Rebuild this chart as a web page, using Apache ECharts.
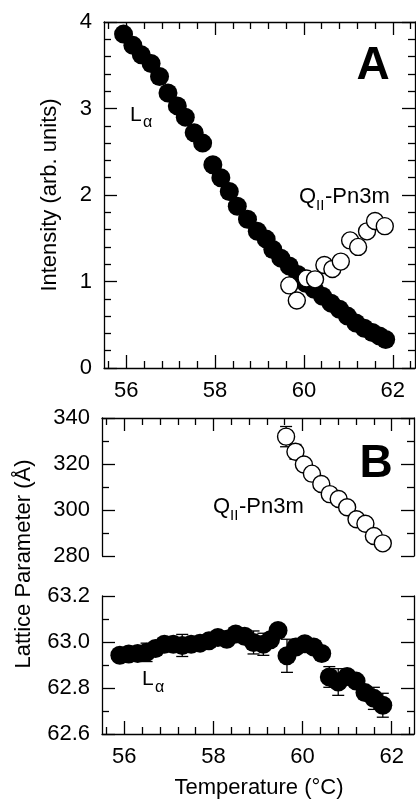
<!DOCTYPE html>
<html>
<head>
<meta charset="utf-8">
<script src="https://cdn.jsdelivr.net/npm/echarts@6/dist/echarts.min.js"></script>
<style>
html, body { margin: 0; padding: 0; background: #fff; }
#chart { width: 416px; height: 801px; }
</style>
</head>
<body>
<div id="chart"></div>
<script>
// Panel A: intensity vs temperature
var tempLaA = [55.94, 56.15, 56.34, 56.56, 56.75, 56.94, 57.15, 57.33, 57.53, 57.72, 57.95, 58.13, 58.32, 58.5, 58.73, 58.95, 59.15, 59.3, 59.48, 59.67, 59.86, 60.04, 60.23, 60.42, 60.61, 60.8, 60.98, 61.17, 61.36, 61.54, 61.7, 61.84];
var intensityLaA = [3.86, 3.73, 3.62, 3.52, 3.37, 3.18, 3.03, 2.90, 2.72, 2.60, 2.35, 2.20, 2.04, 1.87, 1.72, 1.58, 1.49, 1.37, 1.27, 1.18, 1.08, 0.98, 0.91, 0.83, 0.75, 0.68, 0.60, 0.52, 0.46, 0.41, 0.37, 0.33];
var tempQA = [59.67, 59.84, 60.06, 60.25, 60.46, 60.64, 60.83, 61.04, 61.22, 61.42, 61.6, 61.82];
var intensityQA = [0.955, 0.78, 1.035, 1.025, 1.19, 1.145, 1.23, 1.475, 1.40, 1.58, 1.70, 1.64];

// Panel B: lattice parameter vs temperature
var tempQB = [59.63, 59.84, 60.03, 60.21, 60.42, 60.61, 60.81, 61.0, 61.21, 61.41, 61.6, 61.8];
var latticeQB = [331.9, 325.3, 319.8, 315.8, 311.3, 306.9, 304.8, 301.2, 296.0, 294.0, 288.7, 285.5];
var errQB = [4.4, 3.2, 2.5, 2.5, 2.5, 2.5, 2.5, 2.5, 2.5, 2.5, 2.5, 2.5];
var tempLaB = [55.9, 56.1, 56.3, 56.5, 56.7, 56.9, 57.1, 57.3, 57.5, 57.7, 57.9, 58.1, 58.3, 58.5, 58.7, 58.9, 59.12, 59.28, 59.45, 59.65, 59.85, 60.05, 60.25, 60.43, 60.6, 60.8, 61.0, 61.2, 61.4, 61.6, 61.8];
var latticeLaB = [62.942, 62.948, 62.95, 62.955, 62.972, 62.99, 62.99, 62.985, 62.99, 62.995, 63.005, 63.02, 63.012, 63.035, 63.025, 62.998, 62.99, 63.01, 63.05, 62.94, 62.978, 62.992, 62.978, 62.95, 62.848, 62.826, 62.85, 62.83, 62.78, 62.755, 62.725];
var errLaB = [0.02, 0.02, 0.02, 0.04, 0.02, 0.02, 0.02, 0.048, 0.02, 0.02, 0.02, 0.02, 0.02, 0.02, 0.02, 0.05, 0.048, 0.02, 0.02, 0.072, 0.02, 0.02, 0.02, 0.02, 0.045, 0.058, 0.02, 0.02, 0.02, 0.048, 0.052];

// ticks
var xMajorTicks = [56, 58, 60, 62];
var xMinorTicks = [55.6, 56.4, 56.8, 57.2, 57.6, 58.4, 58.8, 59.2, 59.6, 60.4, 60.8, 61.2, 61.6, 62.4];

var FONT = "'Liberation Sans', Arial, sans-serif";
var INK = '#000';

function zip(a, b, c) {
    return a.map(function (v, i) { return c ? [v, b[i], c[i]] : [v, b[i]]; });
}

function xAxisDef(grid, pos, major, showLine, showLabel) {
    return {
        type: 'value', gridIndex: grid, position: pos, min: 55.5, max: 62.5,
        axisLine: { show: showLine, lineStyle: { color: INK, width: 1.3 } },
        axisTick: { show: true, inside: true, length: major ? 13 : 7, customValues: major ? xMajorTicks : xMinorTicks, lineStyle: { color: INK, width: 1.3 } },
        axisLabel: { show: showLabel, customValues: xMajorTicks, margin: 12, fontSize: 22, fontFamily: FONT, color: INK },
        splitLine: { show: false }
    };
}

function yAxisDef(grid, pos, min, max, interval, minorSplit, showLabel, fmt) {
    return {
        type: 'value', gridIndex: grid, position: pos, min: min, max: max, interval: interval,
        axisLine: { show: true, onZero: false, lineStyle: { color: INK, width: 1.3 } },
        axisTick: { show: true, inside: true, length: 13, lineStyle: { color: INK, width: 1.3 } },
        minorTick: { show: true, splitNumber: minorSplit, length: 7, lineStyle: { color: INK, width: 1.3 } },
        axisLabel: { show: showLabel, margin: 12, fontSize: 22, fontFamily: FONT, color: INK, formatter: fmt },
        splitLine: { show: false },
        minorSplitLine: { show: false }
    };
}

function renderErrorBar(params, api) {
    var x = api.value(0), y = api.value(1), e = api.value(2);
    var top = api.coord([x, y + e]);
    var bot = api.coord([x, y - e]);
    var half = 6;
    var style = { stroke: INK, lineWidth: 1.3, fill: null };
    return {
        type: 'group',
        children: [
            { type: 'line', shape: { x1: top[0], y1: top[1], x2: bot[0], y2: bot[1] }, style: style },
            { type: 'line', shape: { x1: top[0] - half, y1: top[1], x2: top[0] + half, y2: top[1] }, style: style },
            { type: 'line', shape: { x1: bot[0] - half, y1: bot[1], x2: bot[0] + half, y2: bot[1] }, style: style }
        ]
    };
}

function txt(x, y, text, size, opts) {
    opts = opts || {};
    return {
        type: 'text', x: x, y: y, rotation: opts.rotation || 0, z: 10,
        style: {
            text: text, fill: INK, fontSize: size, fontFamily: FONT, fontWeight: opts.bold ? 'bold' : 'normal',
            align: opts.align || 'left', verticalAlign: 'middle',
            textAlign: opts.align || 'left', textVerticalAlign: 'middle'
        }
    };
}

var chart = echarts.init(document.getElementById('chart'), null, { renderer: 'canvas' });

var option = {
    backgroundColor: '#fff',
    animation: false,
    grid: [
        { left: 104, top: 22, width: 311, height: 346 },
        { left: 102, top: 418, width: 312, height: 138 },
        { left: 102, top: 596, width: 312, height: 138 }
    ],
    xAxis: [
        xAxisDef(0, 'bottom', true, true, true),
        xAxisDef(0, 'bottom', false, false, false),
        xAxisDef(0, 'top', true, true, false),
        xAxisDef(0, 'top', false, false, false),
        xAxisDef(1, 'top', true, true, false),
        xAxisDef(1, 'top', false, false, false),
        xAxisDef(2, 'bottom', true, true, true),
        xAxisDef(2, 'bottom', false, false, false)
    ],
    yAxis: [
        yAxisDef(0, 'left', 0, 4, 1, 5, true),
        yAxisDef(0, 'right', 0, 4, 1, 5, false),
        yAxisDef(1, 'left', 280, 340, 20, 2, true),
        yAxisDef(1, 'right', 280, 340, 20, 2, false),
        yAxisDef(2, 'left', 62.6, 63.2, 0.2, 2, true, function (v) { return v.toFixed(1); }),
        yAxisDef(2, 'right', 62.6, 63.2, 0.2, 2, false)
    ],
    series: [
        {
            name: 'La intensity', type: 'scatter', xAxisIndex: 0, yAxisIndex: 0,
            data: zip(tempLaA, intensityLaA), symbolSize: 19,
            itemStyle: { color: INK, opacity: 1 }, emphasis: { disabled: true }
        },
        {
            name: 'QII intensity', type: 'scatter', xAxisIndex: 0, yAxisIndex: 0,
            data: zip(tempQA, intensityQA), symbolSize: 17,
            itemStyle: { color: '#fff', borderColor: INK, borderWidth: 1.4, opacity: 1 }, emphasis: { disabled: true }
        },
        {
            name: 'QII error', type: 'custom', xAxisIndex: 4, yAxisIndex: 2,
            data: zip(tempQB, latticeQB, errQB), encode: { x: 0, y: 1 },
            renderItem: renderErrorBar, clip: false
        },
        {
            name: 'QII lattice', type: 'scatter', xAxisIndex: 4, yAxisIndex: 2,
            data: zip(tempQB, latticeQB), symbolSize: 17,
            itemStyle: { color: '#fff', borderColor: INK, borderWidth: 1.4, opacity: 1 }, emphasis: { disabled: true }
        },
        {
            name: 'La error', type: 'custom', xAxisIndex: 6, yAxisIndex: 4,
            data: zip(tempLaB, latticeLaB, errLaB), encode: { x: 0, y: 1 },
            renderItem: renderErrorBar, clip: false
        },
        {
            name: 'La lattice', type: 'scatter', xAxisIndex: 6, yAxisIndex: 4,
            data: zip(tempLaB, latticeLaB), symbolSize: 19,
            itemStyle: { color: INK, opacity: 1 }, emphasis: { disabled: true }
        }
    ],
    graphic: [
        txt(50, 195, 'Intensity (arb. units)', 22, { rotation: Math.PI / 2, align: 'center' }),
        txt(24, 564, 'Lattice Parameter (Å)', 22, { rotation: Math.PI / 2, align: 'center' }),
        txt(259, 788, 'Temperature (°C)', 22, { align: 'center' }),
        txt(373, 66, 'A', 46, { bold: true, align: 'center' }),
        txt(376, 464, 'B', 46, { bold: true, align: 'center' }),
        // L alpha labels
        txt(130, 115, 'L', 21),
        txt(143, 123, 'α', 16),
        txt(142, 679, 'L', 21),
        txt(155, 688, 'α', 16),
        // QII-Pn3m labels
        txt(299, 197, 'Q', 22),
        txt(316, 206, 'II', 15),
        txt(325, 197, '-Pn3m', 22),
        txt(213, 507, 'Q', 22),
        txt(230, 516, 'II', 15),
        txt(239, 507, '-Pn3m', 22)
    ]
};

chart.setOption(option);
</script>
</body>
</html>
